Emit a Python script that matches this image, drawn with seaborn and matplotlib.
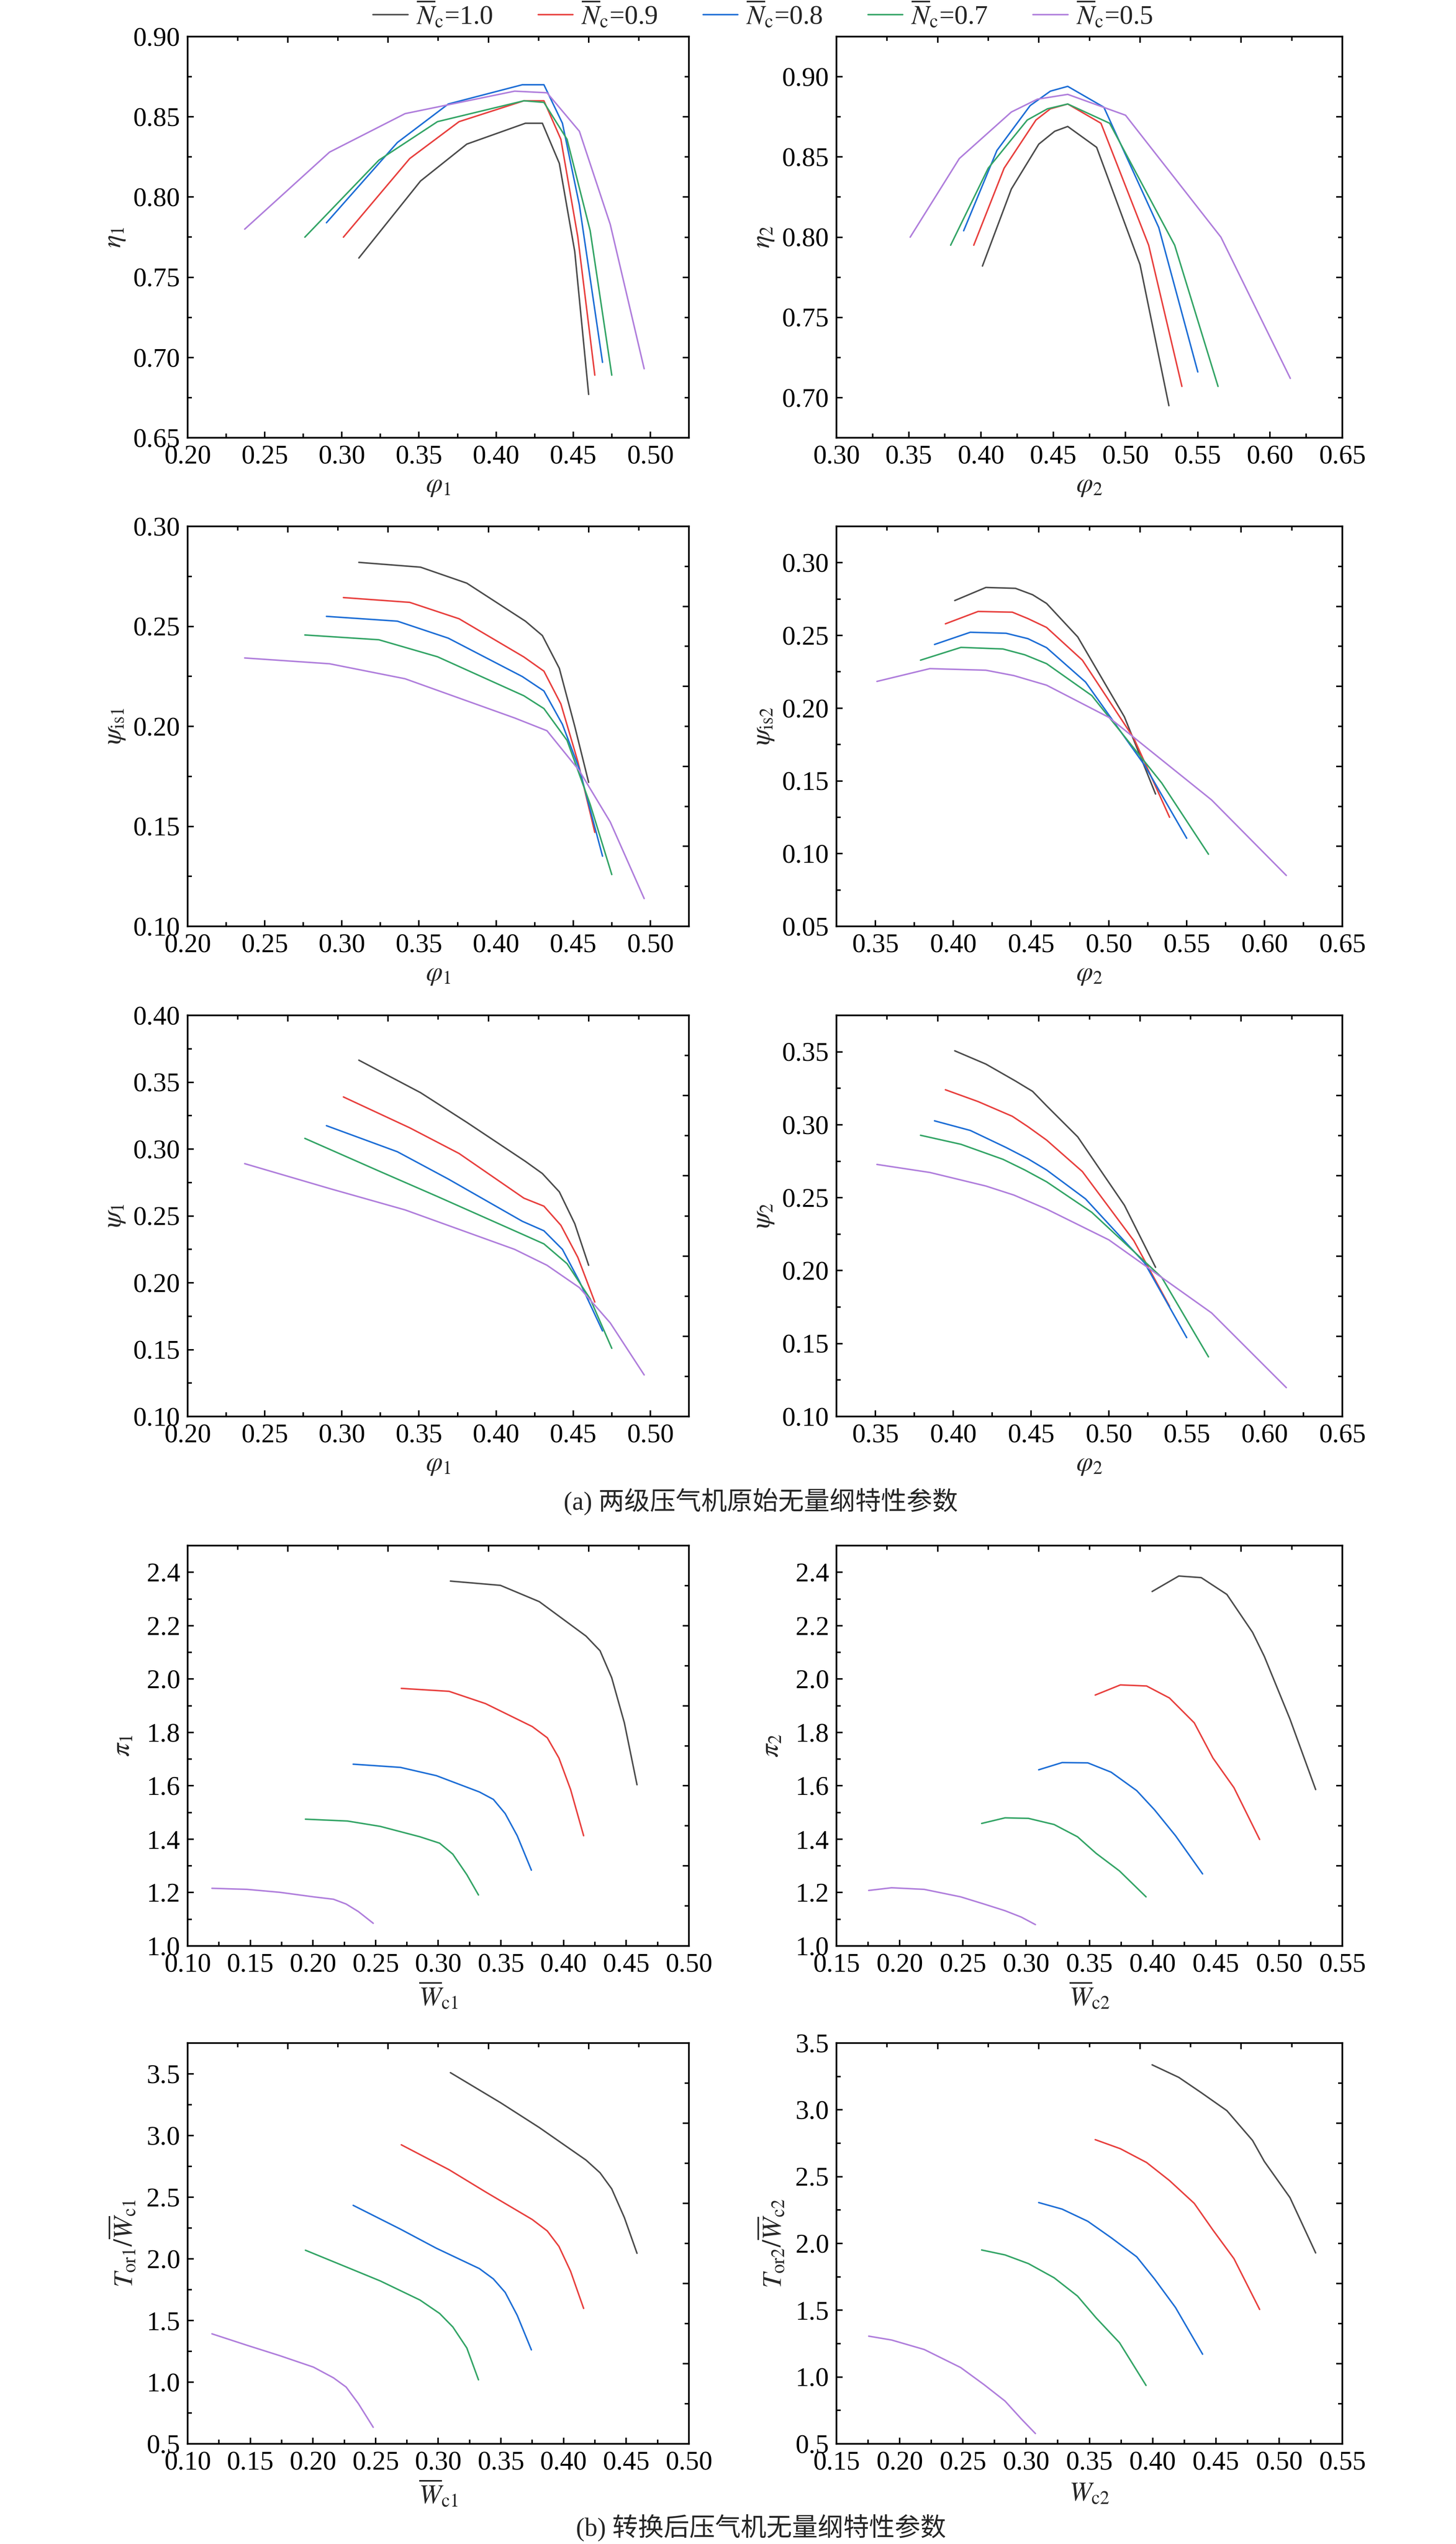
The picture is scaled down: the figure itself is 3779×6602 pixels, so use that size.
import numpy as np
import pandas as pd
import matplotlib
matplotlib.use("Agg")
import matplotlib.pyplot as plt
from matplotlib.ticker import MultipleLocator, AutoMinorLocator, FormatStrFormatter
import seaborn as sns

# ---------------- data ----------------
speeds = ["1.0", "0.9", "0.8", "0.7", "0.5"]
colors = ["#4d4d4d", "#e8413f", "#1f6fd6", "#35a567", "#b07fdc"]

phi1 = {
    "1.0": [0.311, 0.351, 0.381, 0.419, 0.430, 0.441, 0.451, 0.460],
    "0.9": [0.301, 0.344, 0.376, 0.418, 0.431, 0.442, 0.453, 0.464],
    "0.8": [0.290, 0.336, 0.369, 0.417, 0.431, 0.443, 0.454, 0.469],
    "0.7": [0.276, 0.324, 0.362, 0.418, 0.431, 0.446, 0.461, 0.475],
    "0.5": [0.237, 0.292, 0.341, 0.412, 0.433, 0.454, 0.474, 0.496],
}
eta1 = {
    "1.0": [0.762, 0.810, 0.833, 0.846, 0.846, 0.821, 0.766, 0.677],
    "0.9": [0.775, 0.824, 0.847, 0.860, 0.860, 0.836, 0.775, 0.689],
    "0.8": [0.784, 0.834, 0.858, 0.870, 0.870, 0.846, 0.795, 0.697],
    "0.7": [0.775, 0.823, 0.847, 0.860, 0.859, 0.836, 0.779, 0.689],
    "0.5": [0.780, 0.828, 0.852, 0.866, 0.865, 0.841, 0.783, 0.693],
}
psi_is1 = {
    "1.0": [0.2820, 0.2796, 0.2716, 0.2526, 0.2454, 0.2290, 0.2000, 0.1720],
    "0.9": [0.2644, 0.2620, 0.2538, 0.2347, 0.2276, 0.2112, 0.1824, 0.1470],
    "0.8": [0.2550, 0.2526, 0.2441, 0.2249, 0.2177, 0.2010, 0.1786, 0.1351],
    "0.7": [0.2457, 0.2433, 0.2348, 0.2153, 0.2089, 0.1930, 0.1610, 0.1259],
    "0.5": [0.2342, 0.2313, 0.2238, 0.2042, 0.1978, 0.1778, 0.1522, 0.1139],
}
psi_1 = {
    "1.0": [0.3665, 0.3422, 0.3200, 0.2908, 0.2817, 0.2680, 0.2442, 0.2131],
    "0.9": [0.3390, 0.3159, 0.2967, 0.2633, 0.2573, 0.2430, 0.2190, 0.1856],
    "0.8": [0.3175, 0.2980, 0.2776, 0.2460, 0.2389, 0.2250, 0.2011, 0.1640],
    "0.7": [0.3080, 0.2836, 0.2645, 0.2358, 0.2291, 0.2143, 0.1880, 0.1510],
    "0.5": [0.2891, 0.2705, 0.2545, 0.2250, 0.2131, 0.1964, 0.1700, 0.1311],
}
phi2 = {
    "1.0": [0.401, 0.421, 0.440, 0.451, 0.460, 0.480, 0.510, 0.530],
    "0.9": [0.395, 0.416, 0.438, 0.448, 0.460, 0.483, 0.516, 0.539],
    "0.8": [0.388, 0.411, 0.434, 0.448, 0.460, 0.485, 0.523, 0.550],
    "0.7": [0.379, 0.405, 0.432, 0.446, 0.460, 0.489, 0.534, 0.564],
    "0.5": [0.351, 0.385, 0.421, 0.439, 0.460, 0.500, 0.566, 0.614],
}
eta2 = {
    "1.0": [0.782, 0.830, 0.858, 0.866, 0.869, 0.856, 0.783, 0.695],
    "0.9": [0.795, 0.843, 0.873, 0.880, 0.883, 0.871, 0.795, 0.707],
    "0.8": [0.804, 0.854, 0.882, 0.891, 0.894, 0.881, 0.806, 0.716],
    "0.7": [0.795, 0.843, 0.873, 0.880, 0.883, 0.871, 0.795, 0.707],
    "0.5": [0.800, 0.849, 0.878, 0.886, 0.889, 0.876, 0.800, 0.712],
}
psi_is2 = {
    "1.0": [0.2740, 0.2830, 0.2824, 0.2780, 0.2720, 0.2490, 0.1940, 0.1410],
    "0.9": [0.2580, 0.2665, 0.2660, 0.2616, 0.2555, 0.2330, 0.1794, 0.1250],
    "0.8": [0.2438, 0.2522, 0.2515, 0.2478, 0.2416, 0.2180, 0.1607, 0.1106],
    "0.7": [0.2330, 0.2418, 0.2407, 0.2367, 0.2306, 0.2087, 0.1485, 0.0996],
    "0.5": [0.2184, 0.2272, 0.2261, 0.2224, 0.2158, 0.1937, 0.1369, 0.0850],
}
psi_2 = {
    "1.0": [0.3507, 0.3416, 0.3300, 0.3229, 0.3130, 0.2917, 0.2448, 0.2023],
    "0.9": [0.3240, 0.3159, 0.3058, 0.2987, 0.2895, 0.2679, 0.2206, 0.1755],
    "0.8": [0.3027, 0.2961, 0.2844, 0.2767, 0.2690, 0.2492, 0.2052, 0.1541],
    "0.7": [0.2928, 0.2866, 0.2763, 0.2690, 0.2609, 0.2400, 0.1953, 0.1409],
    "0.5": [0.2728, 0.2673, 0.2580, 0.2518, 0.2422, 0.2211, 0.1710, 0.1198],
}
wc1 = {
    "1.0": [0.3097, 0.3496, 0.3806, 0.4179, 0.4291, 0.4384, 0.4485, 0.4586],
    "0.9": [0.2705, 0.3086, 0.3377, 0.3750, 0.3870, 0.3963, 0.4056, 0.4160],
    "0.8": [0.2321, 0.2698, 0.2985, 0.3328, 0.3440, 0.3534, 0.3630, 0.3743],
    "0.7": [0.1940, 0.2276, 0.2537, 0.2854, 0.3011, 0.3116, 0.3228, 0.3321],
    "0.5": [0.1194, 0.1474, 0.1735, 0.2004, 0.2164, 0.2265, 0.2362, 0.2481],
}
pi1 = {
    "1.0": [2.367, 2.351, 2.290, 2.161, 2.106, 2.005, 1.836, 1.604],
    "0.9": [1.965, 1.954, 1.908, 1.822, 1.780, 1.704, 1.586, 1.413],
    "0.8": [1.681, 1.669, 1.638, 1.577, 1.549, 1.496, 1.413, 1.284],
    "0.7": [1.475, 1.468, 1.448, 1.409, 1.385, 1.344, 1.267, 1.191],
    "0.5": [1.216, 1.212, 1.201, 1.184, 1.175, 1.157, 1.129, 1.085],
}
t1 = {
    "1.0": [3.510, 3.267, 3.065, 2.801, 2.698, 2.568, 2.335, 2.045],
    "0.9": [2.925, 2.723, 2.543, 2.319, 2.226, 2.101, 1.899, 1.598],
    "0.8": [2.434, 2.241, 2.086, 1.921, 1.837, 1.728, 1.542, 1.262],
    "0.7": [2.070, 1.930, 1.821, 1.666, 1.557, 1.448, 1.277, 1.019],
    "0.5": [1.392, 1.299, 1.215, 1.122, 1.035, 0.960, 0.827, 0.634],
}
wc2 = {
    "1.0": [0.3996, 0.4207, 0.4384, 0.4587, 0.4790, 0.4883, 0.5086, 0.5289],
    "0.9": [0.3546, 0.3745, 0.3952, 0.4133, 0.4329, 0.4477, 0.4643, 0.4846],
    "0.8": [0.3099, 0.3284, 0.3487, 0.3672, 0.3874, 0.4015, 0.4181, 0.4395],
    "0.7": [0.2648, 0.2833, 0.3018, 0.3221, 0.3406, 0.3553, 0.3738, 0.3948],
    "0.5": [0.1755, 0.1936, 0.2194, 0.2482, 0.2667, 0.2833, 0.2962, 0.3073],
}
pi2 = {
    "1.0": [2.328, 2.386, 2.380, 2.317, 2.175, 2.085, 1.850, 1.586],
    "0.9": [1.940, 1.978, 1.974, 1.929, 1.836, 1.704, 1.593, 1.399],
    "0.8": [1.660, 1.687, 1.686, 1.651, 1.582, 1.510, 1.413, 1.270],
    "0.7": [1.459, 1.480, 1.478, 1.455, 1.409, 1.347, 1.281, 1.184],
    "0.5": [1.208, 1.218, 1.212, 1.184, 1.157, 1.132, 1.108, 1.080],
}
t2 = {
    "1.0": [3.337, 3.243, 3.129, 2.994, 2.771, 2.614, 2.343, 1.929],
    "0.9": [2.777, 2.709, 2.606, 2.471, 2.300, 2.100, 1.886, 1.506],
    "0.8": [2.306, 2.257, 2.166, 2.043, 1.900, 1.734, 1.520, 1.171],
    "0.7": [1.951, 1.914, 1.849, 1.743, 1.606, 1.443, 1.257, 0.937],
    "0.5": [1.306, 1.277, 1.206, 1.071, 0.943, 0.820, 0.686, 0.577],
}

caption_a = "(a) 两级压气机原始无量纲特性参数"
caption_b = "(b) 转换后压气机无量纲特性参数"

# ---------------- style ----------------
sns.set_theme(style="ticks")
plt.rcParams["font.family"] = ["Liberation Serif", "Noto Sans CJK SC"]
plt.rcParams["mathtext.fontset"] = "stix"
plt.rcParams["axes.unicode_minus"] = False

W, H = 3780, 6602
fig = plt.figure(figsize=(W / 100, H / 100), dpi=100)
FS = 50

cols = [(487, 1788), (2171, 3484)]
rows = [(95, 1136), (1366, 2404), (2635, 3676), (4011, 5050), (5302, 6342)]

panels = [
    # row, col, xdata, ydata, xlim, ylim, xstep, ystep, xfmt, yfmt, xlabel, ylabel
    (0, 0, phi1, eta1, (0.20, 0.525), (0.65, 0.90), 0.05, 0.05, "%.2f", "%.2f", r"$\varphi_1$", r"$\eta_1$"),
    (0, 1, phi2, eta2, (0.30, 0.65), (0.675, 0.925), 0.05, 0.05, "%.2f", "%.2f", r"$\varphi_2$", r"$\eta_2$"),
    (1, 0, phi1, psi_is1, (0.20, 0.525), (0.10, 0.30), 0.05, 0.05, "%.2f", "%.2f", r"$\varphi_1$", r"$\psi_{\mathrm{is1}}$"),
    (1, 1, phi2, psi_is2, (0.325, 0.65), (0.05, 0.325), 0.05, 0.05, "%.2f", "%.2f", r"$\varphi_2$", r"$\psi_{\mathrm{is2}}$"),
    (2, 0, phi1, psi_1, (0.20, 0.525), (0.10, 0.40), 0.05, 0.05, "%.2f", "%.2f", r"$\varphi_1$", r"$\psi_1$"),
    (2, 1, phi2, psi_2, (0.325, 0.65), (0.10, 0.375), 0.05, 0.05, "%.2f", "%.2f", r"$\varphi_2$", r"$\psi_2$"),
    (3, 0, wc1, pi1, (0.10, 0.50), (1.0, 2.5), 0.05, 0.2, "%.2f", "%.1f", r"$\overline{W}_{\mathrm{c1}}$", r"$\pi_1$"),
    (3, 1, wc2, pi2, (0.15, 0.55), (1.0, 2.5), 0.05, 0.2, "%.2f", "%.1f", r"$\overline{W}_{\mathrm{c2}}$", r"$\pi_2$"),
    (4, 0, wc1, t1, (0.10, 0.50), (0.5, 3.75), 0.05, 0.5, "%.2f", "%.1f", r"$\overline{W}_{\mathrm{c1}}$", r"$T_{\mathrm{or1}}/\overline{W}_{\mathrm{c1}}$"),
    (4, 1, wc2, t2, (0.15, 0.55), (0.5, 3.5), 0.05, 0.5, "%.2f", "%.1f", r"$W_{\mathrm{c2}}$", r"$T_{\mathrm{or2}}/\overline{W}_{\mathrm{c2}}$"),
]

palette = dict(zip(speeds, colors))
first_ax = None
for (r, c, xd, yd, xlim, ylim, xs, ys, xf, yf, xl, yl) in panels:
    x0, x1 = cols[c]
    y0, y1 = rows[r]
    ax = fig.add_axes([x0 / W, 1 - y1 / H, (x1 - x0) / W, (y1 - y0) / H])
    frames = []
    for s in speeds:
        frames.append(pd.DataFrame({"x": xd[s], "y": yd[s], "N": s}))
    df = pd.concat(frames, ignore_index=True)
    sns.lineplot(data=df, x="x", y="y", hue="N", hue_order=speeds, palette=palette,
                 sort=False, estimator=None, legend=False, linewidth=2.8, ax=ax)
    ax.set_xlim(*xlim)
    ax.set_ylim(*ylim)
    ax.xaxis.set_major_locator(MultipleLocator(xs))
    ax.yaxis.set_major_locator(MultipleLocator(ys))
    ax.xaxis.set_minor_locator(AutoMinorLocator(2))
    ax.yaxis.set_minor_locator(AutoMinorLocator(2))
    ax.xaxis.set_major_formatter(FormatStrFormatter(xf))
    ax.yaxis.set_major_formatter(FormatStrFormatter(yf))
    ax.tick_params(which="both", direction="in", top=False, right=False,
                   labelsize=FS, width=2.8, colors="black")
    ax.tick_params(which="major", length=11.5, pad=14)
    ax.tick_params(which="minor", length=8)
    for sp in ax.spines.values():
        sp.set_linewidth(3.2)
        sp.set_color("black")
    hpx = y1 - y0
    wpx = x1 - x0
    ax.set_xlabel(xl, fontsize=FS, va="center")
    ax.set_ylabel(yl, fontsize=FS, va="center")
    xoff = 130 if r >= 3 else 124
    yoff = 168 if r >= 3 else 190
    ax.xaxis.set_label_coords(0.5, -xoff / hpx)
    ax.yaxis.set_label_coords(-yoff / wpx, 0.5)

    # mirrored frame ticks on top / right (independent spacing as in the original)
    axr = ax.twinx()
    axr.set_ylim(0, 1)
    axr.yaxis.set_major_locator(plt.FixedLocator([0.2, 0.4, 0.6, 0.8]))
    axr.yaxis.set_minor_locator(plt.FixedLocator([0.1, 0.3, 0.5, 0.7, 0.9]))
    axr.tick_params(which="both", direction="in", labelright=False, width=2.8, colors="black")
    axr.tick_params(which="major", length=11.5)
    axr.tick_params(which="minor", length=8)
    axt = ax.twiny()
    axt.set_xlim(0, 1)
    axt.xaxis.set_major_locator(plt.FixedLocator([0.2, 0.4, 0.6, 0.8]))
    axt.xaxis.set_minor_locator(plt.FixedLocator([0.1, 0.3, 0.5, 0.7, 0.9]))
    axt.tick_params(which="both", direction="in", labeltop=False, width=2.8, colors="black")
    axt.tick_params(which="major", length=11.5)
    axt.tick_params(which="minor", length=8)
    for a in (axr, axt):
        for sp in a.spines.values():
            sp.set_visible(False)
        a.grid(False)
    if first_ax is None:
        first_ax = ax

handles = first_ax.get_lines()[:5]
labels = [r"$\overline{N}_{\mathrm{c}}$=" + s for s in speeds]
fig.legend(handles, labels, loc="center", bbox_to_anchor=(1980 / W, 1 - 38 / H), ncol=5,
           frameon=False, fontsize=FS, handlelength=1.3, handletextpad=0.3,
           columnspacing=1.7)

fig.text(1975 / W, 1 - 3897 / H, caption_a, ha="center", va="center", fontsize=48)
fig.text(1975 / W, 1 - 6560 / H, caption_b, ha="center", va="center", fontsize=48)

fig.savefig("out.png", dpi=100, facecolor="white")
